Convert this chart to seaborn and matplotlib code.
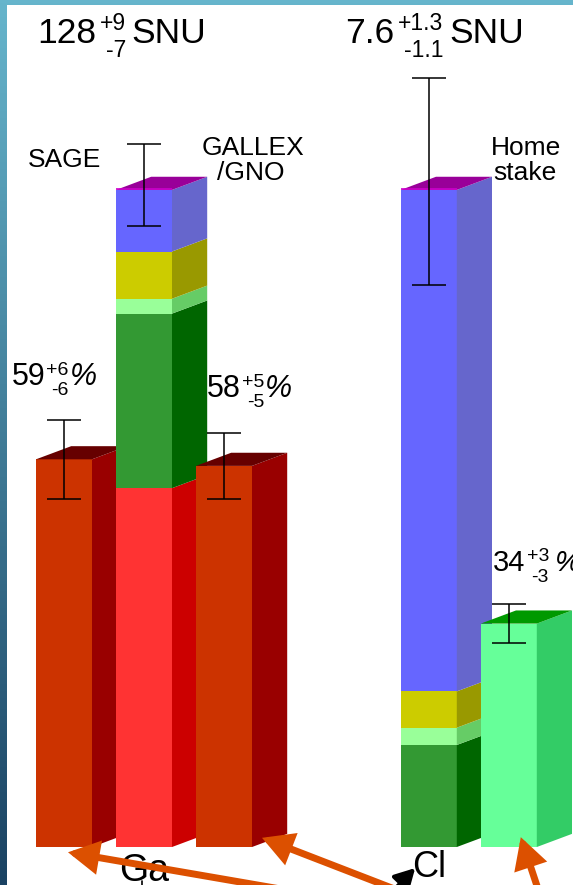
import numpy as np
import matplotlib
matplotlib.use("Agg")
import matplotlib.pyplot as plt
from matplotlib.patches import Polygon, Rectangle
import seaborn as sns

# ---------------- data ----------------
# Standard solar model contributions, stacked bottom to top
components = ["pp", "7Be", "pep", "CNO", "8B"]
ga_prediction_snu = [69.9, 34.0, 2.9, 9.2, 12.0]
cl_prediction_snu = [0.0, 1.18, 0.20, 0.42, 5.80]
ga_total_snu = 128
ga_total_err = [9, 7]          # (+, -)
cl_total_snu = 7.6
cl_total_err = [1.3, 1.1]      # (+, -)

# Measured rates as a fraction of the prediction
experiments = ["SAGE", "GALLEX/GNO", "Homestake"]
measured_pct = [59, 58, 34]
measured_err_up = [6, 5, 3]
measured_err_dn = [6, 5, 3]

# ---------------- style ----------------
sns.set_style("white")
plt.rcParams["font.family"] = ["Liberation Sans", "DejaVu Sans"]
plt.rcParams["text.color"] = "black"

FRONT = {"pp": "#ff3333", "7Be": "#339933", "pep": "#99ff99",
         "CNO": "#cccc00", "8B": "#6666ff"}
SIDE = {"pp": "#cc0000", "7Be": "#006600", "pep": "#66cc66",
        "CNO": "#999900", "8B": "#6666cc"}
STACK_TOP = "#990099"
STACK_TOP_EDGE = "#cc00cc"
GA_EXP = ("#cc3300", "#990000", "#660000")
CL_EXP = ("#66ff99", "#33cc66", "#009900")
ARROW = "#dc5000"

BAR_W = 0.70     # front face width
DX, DY = 0.44, 2.0  # depth offset of the 3-D look

POS = {"SAGE": 0.0, "Ga": 1.0, "GALLEX/GNO": 2.0, "Cl": 4.56, "Homestake": 5.56}

W_PX, H_PX, DPI = 573, 885, 100
fig = plt.figure(figsize=(W_PX / DPI, H_PX / DPI), dpi=DPI)
renderer = fig.canvas.get_renderer()

# framed background: blue gradient strips on the left and top
bg = fig.add_axes([0, 0, 1, 1], zorder=-5)
top_c = np.array(matplotlib.colors.to_rgb("#66b5cc"))
bot_c = np.array(matplotlib.colors.to_rgb("#1a4262"))
t = np.linspace(0, 1, 256)[:, None]
grad = (top_c[None, :] * (1 - t) + bot_c[None, :] * t)[:, None, :]
bg.imshow(grad, aspect="auto", extent=[0, 1, 0, 1])
bg.axis("off")
fig.patches.append(Rectangle((7 / W_PX, 0), 1, (H_PX - 5) / H_PX,
                             transform=fig.transFigure, facecolor="white",
                             edgecolor="none", zorder=-4))

ax = fig.add_axes([0, 0, 1, 1])
ax.set_facecolor("none")


def side_face(x, y0, y1, color, z):
    xr = x + BAR_W / 2
    ax.add_patch(Polygon([(xr, y0), (xr + DX, y0 + DY), (xr + DX, y1 + DY), (xr, y1)],
                         closed=True, facecolor=color, edgecolor="none", zorder=z))


def top_face(x, y, color, z):
    xl, xr = x - BAR_W / 2, x + BAR_W / 2
    ax.add_patch(Polygon([(xl, y), (xl + DX, y + DY), (xr + DX, y + DY), (xr, y)],
                         closed=True, facecolor=color, edgecolor="none", zorder=z))


def front_face(x, y0, y1, color, z):
    sns.barplot(x=[x], y=[y1 - y0], bottom=y0, color=color, saturation=1,
                width=BAR_W, native_scale=True, errorbar=None, linewidth=0,
                zorder=z, ax=ax)


def stacked_prediction(x, snu, total, err, z):
    pct = np.array(snu) / total * 100
    edges = np.concatenate([[0], np.cumsum(pct)])
    for name, y0, y1 in zip(components, edges[:-1], edges[1:]):
        if y1 - y0 <= 0:
            continue
        front_face(x, y0, y1, FRONT[name], z)
        side_face(x, y0, y1, SIDE[name], z)
    top = edges[-1]
    top_face(x, top, STACK_TOP, z)
    ax.plot([x - BAR_W / 2, x + BAR_W / 2], [top + 0.15, top + 0.15],
            color=STACK_TOP_EDGE, lw=1.2, zorder=z, solid_capstyle="butt")
    ax.errorbar([x], [top], yerr=[[err[1] / total * 100], [err[0] / total * 100]],
                fmt="none", ecolor="black", elinewidth=1.1, capsize=12.2,
                capthick=1.1, zorder=10)


def measured(x, pct, up, dn, colors, z):
    front_face(x, 0, pct, colors[0], z)
    side_face(x, 0, pct, colors[1], z)
    top_face(x, pct, colors[2], z)
    ax.errorbar([x], [pct], yerr=[[dn], [up]], fmt="none", ecolor="black",
                elinewidth=1.1, capsize=12.2, capthick=1.1, zorder=10)


# draw left to right so nearer faces cover the sides of their neighbours
measured(POS["SAGE"], measured_pct[0], measured_err_up[0], measured_err_dn[0], GA_EXP, 2)
stacked_prediction(POS["Ga"], ga_prediction_snu, ga_total_snu, ga_total_err, 3)
measured(POS["GALLEX/GNO"], measured_pct[1], measured_err_up[1], measured_err_dn[1], GA_EXP, 4)
stacked_prediction(POS["Cl"], cl_prediction_snu, cl_total_snu, cl_total_err, 3)
measured(POS["Homestake"], measured_pct[2], measured_err_up[2], measured_err_dn[2], CL_EXP, 4)


def width_pt(s, size, style="normal"):
    tt = fig.text(0, 0, s, fontsize=size, style=style)
    w = tt.get_window_extent(renderer).width * 72 / DPI
    tt.remove()
    return w


def value_label(x, y, main, up, dn, suffix, size, small, sup_dy, sub_dy,
                gap, suffix_gap, suffix_style="normal", suffix_size=None):
    suffix_size = suffix_size or size
    ax.text(x, y, main, fontsize=size, ha="left", va="baseline", zorder=11)
    x0 = width_pt(main, size) + gap
    wmax = max(width_pt(up, small), width_pt(dn, small))
    ax.annotate(up, (x, y), xytext=(x0 + wmax, sup_dy), textcoords="offset points",
                fontsize=small, ha="right", va="baseline", zorder=11)
    ax.annotate(dn, (x, y), xytext=(x0 + wmax, sub_dy), textcoords="offset points",
                fontsize=small, ha="right", va="baseline", zorder=11)
    ax.annotate(suffix, (x, y), xytext=(x0 + wmax + suffix_gap, 0),
                textcoords="offset points", fontsize=suffix_size,
                style=suffix_style, ha="left", va="baseline", zorder=11,
                annotation_clip=False)


# predicted totals
value_label(-0.34, 122.4, f"{ga_total_snu}", f"+{ga_total_err[0]}", f"-{ga_total_err[1]}",
            "SNU", 25.5, 16.5, 9, -10, 3, 4)
value_label(3.51, 122.4, f"{cl_total_snu}", f"+{cl_total_err[0]}", f"-{cl_total_err[1]}",
            "SNU", 25.5, 16.5, 9, -10, 3, 4)

# measured fractions
value_label(-0.65, 70.3, f"{measured_pct[0]}", f"+{measured_err_up[0]}",
            f"-{measured_err_dn[0]}", "%", 22, 14, 7, -7, 0.5, 0.5, "italic")
value_label(1.79, 68.5, f"{measured_pct[1]}", f"+{measured_err_up[1]}",
            f"-{measured_err_dn[1]}", "%", 22, 14, 7, -7, 0.5, 0.5, "italic")
value_label(5.36, 42.0, f"{measured_pct[2]}", f"+{measured_err_up[2]}",
            f"-{measured_err_dn[2]}", "%", 21, 14, 7, -8, 1, 4, "italic")

# experiment names
ax.text(-0.45, 103.5, "SAGE", fontsize=19, ha="left", va="baseline")
ax.text(2.36, 105.3, "GALLEX", fontsize=19, ha="center", va="baseline")
ax.text(2.34, 101.5, "/GNO", fontsize=19, ha="center", va="baseline")
ax.text(5.775, 105.3, "Home", fontsize=19, ha="center", va="baseline")
ax.text(5.765, 101.5, "stake", fontsize=19, ha="center", va="baseline")

# target labels under the bars
ax.text(POS["Ga"], -0.9, "Ga", fontsize=27, ha="center", va="top", zorder=11)
ax.text(POS["Cl"], -0.4, "Cl", fontsize=26, ha="center", va="top", zorder=11)

# pointers to the measured bars
arrow_kw = dict(arrowstyle="-|>,head_length=1.0,head_width=0.55", lw=5, color=ARROW,
                shrinkA=0, shrinkB=0, mutation_scale=15, joinstyle="miter")
for tip, tail in [((POS["SAGE"] + 0.05, -0.8), (POS["SAGE"] + 2.95, -6.9)),
                  ((POS["GALLEX/GNO"] + 0.475, 1.4), (POS["GALLEX/GNO"] + 2.6, -8.6)),
                  ((POS["Homestake"] + 0.15, 1.5), (POS["Homestake"] + 0.45, -9.5))]:
    ax.annotate("", xy=tip, xytext=tail, arrowprops=arrow_kw,
                annotation_clip=False, zorder=12)
ax.annotate("", xy=(POS["Cl"] - 0.17, -3.2), xytext=(POS["Cl"] - 0.56, -8.1),
            arrowprops=dict(arrowstyle="-|>,head_length=1.0,head_width=0.55", lw=3,
                            color="black", shrinkA=0, shrinkB=0, mutation_scale=12),
            annotation_clip=False, zorder=12)
ax.plot([POS["Ga"] - 0.02, POS["Ga"] - 0.02], [-5.1, -6.0], color="black", lw=1.2,
        zorder=12, clip_on=False)

ax.set_xlim(-0.8, 6.3625)
ax.set_ylim(-5.78, 128.9)
ax.axis("off")

fig.savefig("out.png", dpi=DPI)
